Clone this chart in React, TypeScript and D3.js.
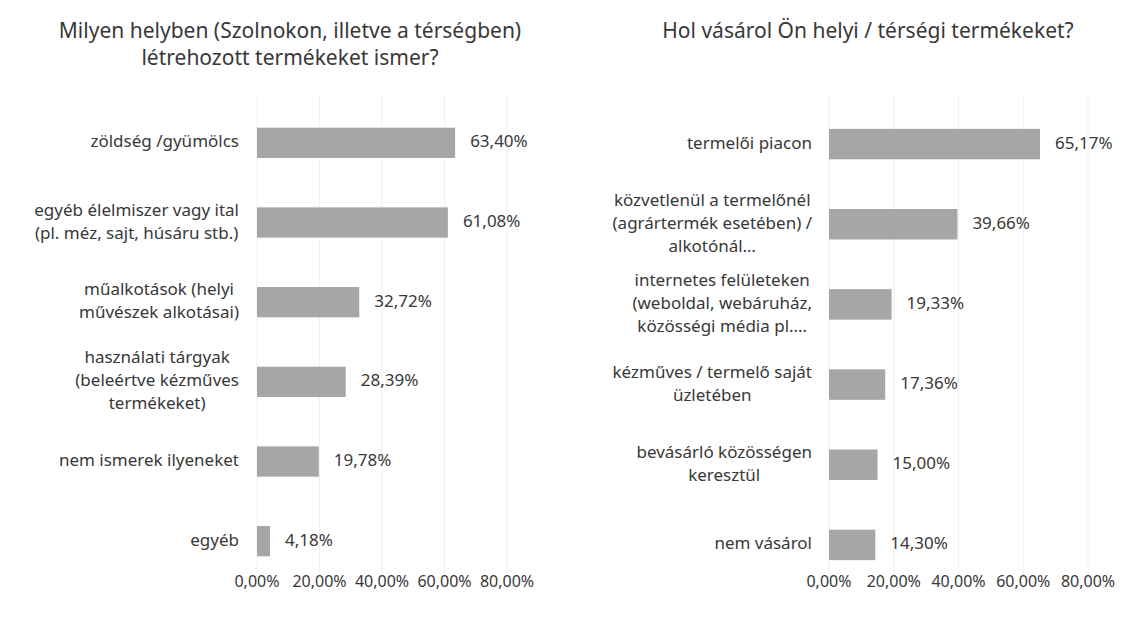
import React, { useEffect, useRef } from 'react';
import * as d3 from 'd3';

// left chart
const leftTitle = ['Milyen helyben (Szolnokon, illetve a térségben)', 'létrehozott termékeket ismer?'];
const leftCategories = [
  ['zöldség /gyümölcs'],
  ['egyéb élelmiszer vagy ital', '(pl. méz, sajt, húsáru stb.)'],
  ['műalkotások (helyi', 'művészek alkotásai)'],
  ['használati tárgyak', '(beleértve kézműves', 'termékeket)'],
  ['nem ismerek ilyeneket'],
  ['egyéb'],
];
const leftValues = [63.40, 61.08, 32.72, 28.39, 19.78, 4.18];

// right chart
const rightTitle = ['Hol vásárol Ön helyi / térségi termékeket?'];
const rightCategories = [
  ['termelői piacon'],
  ['közvetlenül a termelőnél', '(agrártermék esetében) /', 'alkotónál…'],
  ['internetes felületeken', '(weboldal, webáruház,', 'közösségi média pl.…'],
  ['kézműves / termelő saját', 'üzletében'],
  ['bevásárló közösségen', 'keresztül'],
  ['nem vásárol'],
];
const rightValues = [65.17, 39.66, 19.33, 17.36, 15.00, 14.30];

const ticks = [0, 20, 40, 60, 80];

const FONT = '"Noto Sans", sans-serif';
const TEXT = '#383838';
const BAR = '#a6a6a6';

function drawChart(svg, cfg) {
  const g = svg.append('g');
  const x = d3.scaleLinear().domain([0, 80]).range([cfg.x0, cfg.x1]);
  const y = d3.scaleBand()
    .domain(cfg.categories.map((d, i) => i))
    .range([cfg.y0, cfg.y1])
    .paddingInner(0.62)
    .paddingOuter(0.31);

  // faint gridlines
  g.selectAll('.grid')
    .data(ticks)
    .enter().append('line')
    .attr('x1', d => x(d)).attr('x2', d => x(d))
    .attr('y1', cfg.y0 - 8).attr('y2', cfg.y1 - 8)
    .attr('stroke', '#f0f0f0')
    .attr('stroke-width', 1);

  // title
  g.selectAll('.title')
    .data(cfg.title)
    .enter().append('text')
    .attr('x', cfg.titleX)
    .attr('y', (d, i) => 32 + i * 27)
    .attr('text-anchor', 'middle')
    .attr('dominant-baseline', 'middle')
    .attr('font-family', FONT)
    .attr('font-size', 21)
    .attr('fill', TEXT)
    .text(d => d);

  g.selectAll('.bar')
    .data(cfg.values)
    .enter().append('rect')
    .attr('x', x(0))
    .attr('y', (d, i) => y(i))
    .attr('width', d => x(d) - x(0))
    .attr('height', y.bandwidth())
    .attr('fill', BAR);

  g.selectAll('.val')
    .data(cfg.values)
    .enter().append('text')
    .attr('x', d => x(d) + 15)
    .attr('y', (d, i) => y(i) + y.bandwidth() / 2)
    .attr('dominant-baseline', 'middle')
    .attr('font-family', FONT)
    .attr('font-size', 17)
    .attr('fill', TEXT)
    .text(d => d3.format('.2f')(d).replace('.', ',') + '%');

  // category labels: block right-aligned, lines centred inside the block
  cfg.categories.forEach((lines, i) => {
    const cy = y(i) + y.bandwidth() / 2;
    const lh = 23;
    const block = g.append('g');
    const texts = lines.map((line, j) => block.append('text')
      .attr('y', cy + (j - (lines.length - 1) / 2) * lh)
      .attr('text-anchor', 'middle')
      .attr('dominant-baseline', 'middle')
      .attr('font-family', FONT)
      .attr('font-size', 17)
      .attr('fill', TEXT)
      .text(line));
    const w = d3.max(texts, t => t.node().getComputedTextLength());
    texts.forEach(t => t.attr('x', cfg.labelRight - w / 2));
  });

  g.selectAll('.tick')
    .data(ticks)
    .enter().append('text')
    .attr('x', d => x(d))
    .attr('y', 583)
    .attr('text-anchor', 'middle')
    .attr('dominant-baseline', 'middle')
    .attr('font-family', FONT)
    .attr('font-size', 16)
    .attr('fill', TEXT)
    .text(d => d3.format('.2f')(d).replace('.', ',') + '%');
}

export default function App() {
  const ref = useRef(null);

  useEffect(() => {
    const svg = d3.select(ref.current);
    svg.selectAll('*').remove();
    drawChart(svg, {
      title: leftTitle, titleX: 290, categories: leftCategories, values: leftValues,
      x0: 257, x1: 507, y0: 103, y1: 581, labelRight: 239,
    });
    drawChart(svg, {
      title: rightTitle, titleX: 868, categories: rightCategories, values: rightValues,
      x0: 829, x1: 1088, y0: 104, y1: 585, labelRight: 812,
    });
  }, []);

  return (
    <svg ref={ref} width={1147} height={622}
      style={{ position: 'absolute', left: 0, top: 0, background: '#fff' }} />
  );
}
